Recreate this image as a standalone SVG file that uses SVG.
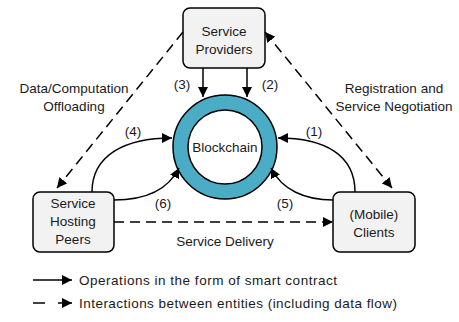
<svg xmlns="http://www.w3.org/2000/svg" width="459" height="322" viewBox="0 0 459 322">
<defs>
<marker id="ah" viewBox="0 0 10 10" refX="10" refY="5" markerWidth="10" markerHeight="10" markerUnits="userSpaceOnUse" orient="auto">
<path d="M0,0 L10,5 L0,10 Z" fill="#000"/>
</marker>
<marker id="ahs" viewBox="0 0 10 10" refX="10" refY="5" markerWidth="10" markerHeight="10" markerUnits="userSpaceOnUse" orient="auto-start-reverse">
<path d="M0,0 L10,5 L0,10 Z" fill="#000"/>
</marker>
<style>
.box{fill:#F2F2F2;stroke:#000;stroke-width:1.5}
.t{font-family:"Liberation Sans",Arial,sans-serif;font-size:13.5px;fill:#1a1a1a}
.c{text-anchor:middle}
.solid{fill:none;stroke:#000;stroke-width:1.5;marker-end:url(#ah)}
.dash{fill:none;stroke:#000;stroke-width:1.5;stroke-dasharray:10,6}
</style>
</defs>
<g id="blockchain">
<circle cx="225" cy="147" r="52" fill="#4BACC6" stroke="#000" stroke-width="1.5"/>
<circle cx="225" cy="147" r="37" fill="#fff" stroke="#000" stroke-width="1.5"/>
<text class="t c" x="225" y="152">Blockchain</text>
</g>
<g id="service-providers">
<rect class="box" x="183" y="8" width="82" height="60" rx="7"/>
<text class="t c" x="224" y="36">Service</text>
<text class="t c" x="224" y="54">Providers</text>
</g>
<g id="service-hosting-peers">
<rect class="box" x="33" y="192" width="81" height="60" rx="7"/>
<text class="t c" x="73" y="208">Service</text>
<text class="t c" x="73" y="226">Hosting</text>
<text class="t c" x="73" y="244">Peers</text>
</g>
<g id="clients">
<rect class="box" x="333" y="192" width="82" height="60" rx="7"/>
<text class="t c" x="374" y="219">(Mobile)</text>
<text class="t c" x="374" y="237">Clients</text>
</g>
<g id="connectors">
<path class="solid" d="M203,68 L203,97"/>
<path class="solid" d="M247,68 L247,97"/>
<path class="solid" d="M92,192 C92,155 125,138 172,138"/>
<path class="solid" d="M114,200 C145,200 168,190 179,168"/>
<path class="solid" d="M355,192 C355,155 325,138 278,138"/>
<path class="solid" d="M333,200 C305,200 282,190 271,168"/>
<path class="dash" d="M183,32 L57,188" marker-end="url(#ah)"/>
<path class="dash" d="M265,32 L392,188" marker-start="url(#ahs)" marker-end="url(#ah)"/>
<path class="dash" d="M114,222 L333,222" marker-end="url(#ah)"/>
<text class="t c" x="182" y="89">(3)</text>
<text class="t c" x="270" y="89">(2)</text>
<text class="t c" x="133" y="136">(4)</text>
<text class="t c" x="314" y="136">(1)</text>
<text class="t c" x="163" y="208">(6)</text>
<text class="t c" x="285" y="208">(5)</text>
<text class="t c" x="74" y="93">Data/Computation</text>
<text class="t c" x="74" y="111">Offloading</text>
<text class="t c" x="394" y="93">Registration and</text>
<text class="t c" x="394" y="111">Service Negotiation</text>
<text class="t c" x="225" y="246">Service Delivery</text>
</g>
<g id="legend">
<path class="solid" d="M33,280 L72,280"/>
<text class="t" x="79" y="285" textLength="258" lengthAdjust="spacing">Operations in the form of smart contract</text>
<path d="M33,303 L45,303" stroke="#000" stroke-width="1.5"/>
<path class="solid" d="M58,303 L72,303"/>
<text class="t" x="79" y="308" textLength="318" lengthAdjust="spacing">Interactions between entities (including data flow)</text>
</g>
</svg>
